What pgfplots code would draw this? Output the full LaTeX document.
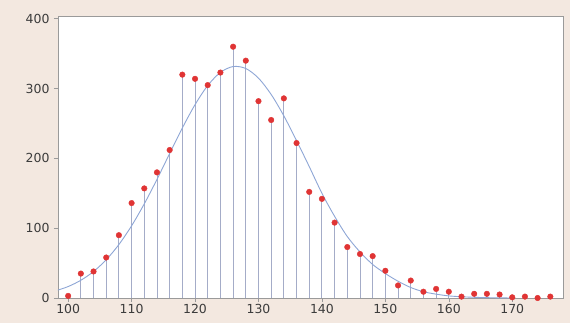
\documentclass[border=0pt]{standalone}
\usepackage{fontspec}
\setmainfont{DejaVu Sans}
\usepackage{pgfplots}
\usepackage{pgfplotstable}
\pgfplotsset{compat=1.18}
\definecolor{bg}{HTML}{F3E8E0}
\definecolor{stem}{HTML}{A4ACC8}
\definecolor{fit}{HTML}{8EA6D6}
\definecolor{pt}{HTML}{E03434}
\definecolor{frame}{HTML}{9A9A9A}
\definecolor{lbl}{HTML}{3C3C3C}
\pgfplotstableread{
x y
100 3
102 35
104 38
106 58
108 90
110 136
112 157
114 180
116 212
118 320
120 314
122 305
124 323
126 360
128 340
130 282
132 255
134 286
136 222
138 152
140 142
142 108
144 73
146 63
148 60
150 39
152 18
154 25
156 9
158 13
160 9
162 2
164 6
166 6
168 5
170 1
172 2
174 0
176 2
}\datatab
\pgfplotstableread{
x y
98 10.2
100 16.4
102 25.4
104 37.9
106 54.8
108 76.6
110 103.4
112 134.9
114 169.9
116 207
118 243.6
120 277
122 304.4
124 323.2
126 331.6
128 328.8
130 315
132 291.6
134 260.9
136 225.5
138 188.3
140 150
142 117
144 88
146 66
148 48
150 35
152 24
154 15
156 9
158 5.5
160 3
162 1.8
164 1
166 0.5
168 0.2
170 0
}\fittab
\begin{document}
\begin{tikzpicture}
\fill[bg] (-58bp,-25bp) rectangle (512bp,298bp);
\begin{axis}[
  at={(0,0)}, anchor=south west,
  scale only axis, width=505bp, height=282bp,
  xmin=98.4, xmax=178, ymin=0, ymax=404,
  axis background/.style={fill=white},
  axis line style={frame, line width=0.8pt},
  xtick={100,110,...,170}, ytick={0,100,...,400},
  xtick pos=bottom, ytick pos=left,
  tick align=outside, major tick length=4bp,
  tick style={frame, line width=0.6pt},
  ticklabel style={font=\fontsize{12.5}{14}\selectfont, text=lbl},
  /pgf/number format/assume math mode=true,
  x tick label style={yshift=1bp},
  y tick label style={xshift=-1bp},
  clip=true,
]
\addplot[ycomb, stem, line width=0.9pt, mark=none] table[x=x,y=y] {\datatab};
\addplot[fit, line width=0.9pt, smooth, mark=none] table[x=x,y=y] {\fittab};
\addplot[only marks, mark=*, mark size=2.8bp, pt, mark options={draw=pt, fill=pt}] table[x=x,y=y] {\datatab};
\end{axis}
\end{tikzpicture}
\end{document}
